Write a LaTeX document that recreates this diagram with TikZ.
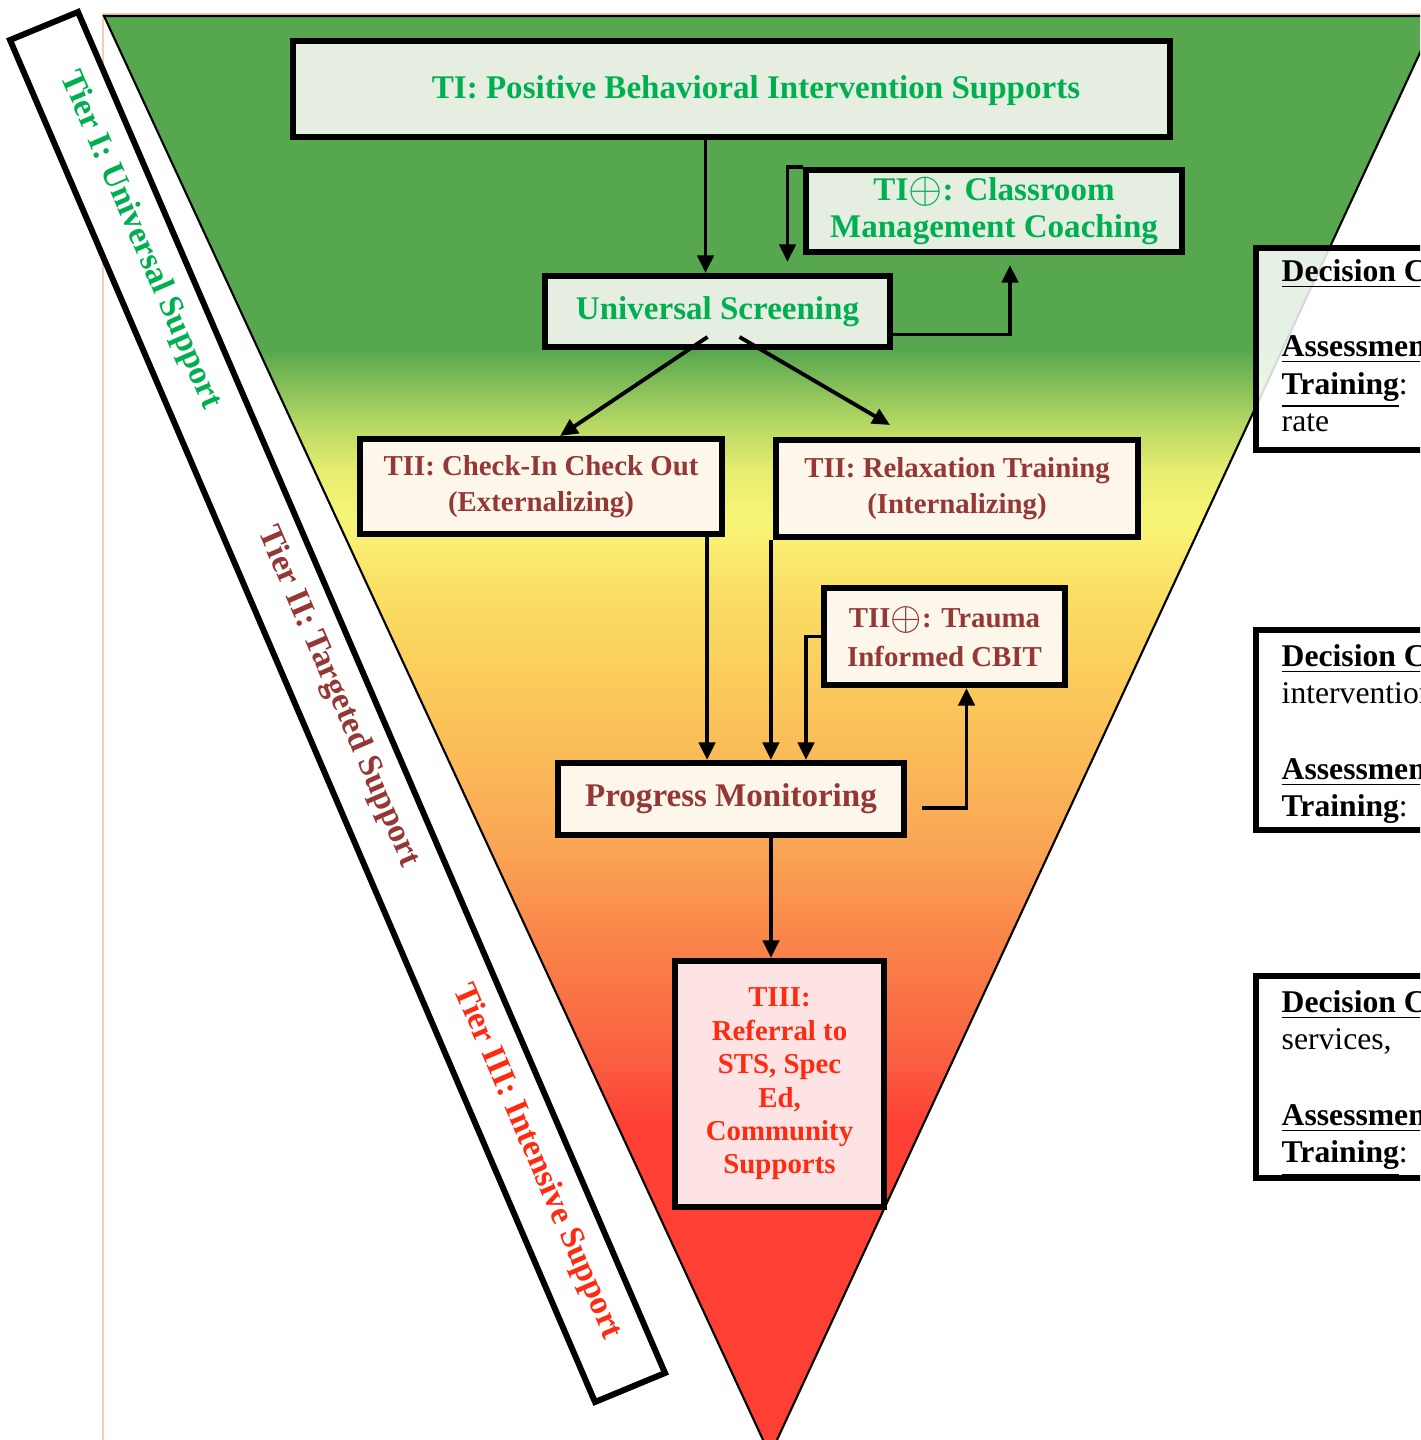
\documentclass[tikz,border=0pt]{standalone}
\usepackage{fontspec}
\usepackage{graphicx}
\setmainfont{Liberation Serif}
\usetikzlibrary{arrows.meta,calc}

% Colours of the three tiers
\definecolor{tigreen}{HTML}{00B050}
\definecolor{tifill}{HTML}{E5EEE1}
\definecolor{tiired}{HTML}{953735}
\definecolor{tiifill}{HTML}{FDF7EB}
\definecolor{tiiired}{HTML}{FF2A10}
\definecolor{tiiifill}{HTML}{FDE3E4}
\definecolor{pagepeach}{HTML}{F5CDB5}

% Colours of the pyramid, top to bottom
\definecolor{shgreen}{HTML}{57A74F}
\definecolor{shlime}{HTML}{B3D763}
\definecolor{shyellowgreen}{HTML}{E6ED6F}
\definecolor{shyellow}{HTML}{F8F577}
\definecolor{shgold}{HTML}{FADD62}
\definecolor{shamber}{HTML}{FBC75A}
\definecolor{shorange}{HTML}{F9A554}
\definecolor{shorangered}{HTML}{F98549}
\definecolor{shredorange}{HTML}{F95F41}
\definecolor{shred}{HTML}{FE3F34}

\pgfdeclareverticalshading{tiershade}{100bp}{color(0bp)=(shred); color(36.5bp)=(shred);
  color(38.7bp)=(shredorange); color(42.9bp)=(shorangered); color(46bp)=(shorange);
  color(51.2bp)=(shamber); color(54.7bp)=(shgold); color(57.5bp)=(shyellow);
  color(59.2bp)=(shyellowgreen); color(60.9bp)=(shlime); color(63.4bp)=(shgreen);
  color(100bp)=(shgreen)}

% Circled plus of the added supports
\newcommand{\addon}{\raisebox{-0.4pt}{\scalebox{1.35}{$\oplus$}}}
% Bold underlined heading of the decision boxes
\newcommand{\dechead}[1]{\textbf{\underline{#1}}}

\begin{document}
\begin{tikzpicture}[x=0.01cm, y=-0.01cm,
    boxtext/.style={font=\fontsize{9.4}{10.5}\selectfont\bfseries, align=center},
    tibox/.style={boxtext, draw, line width=1.7pt, fill=tifill, text=tigreen, inner sep=0pt},
    tiibox/.style={boxtext, draw, line width=1.7pt, fill=tiifill, text=tiired, inner sep=0pt,
        font=\fontsize{8.2}{10.3}\selectfont\bfseries},
    tiiibox/.style={boxtext, draw, line width=1.7pt, fill=tiiifill, text=tiiired, inner sep=0pt,
        font=\fontsize{8.2}{9.5}\selectfont\bfseries},
    flow/.style={line width=1.1pt, -{Triangle[length=5pt,width=4.6pt]}},
    decbox/.style={draw, line width=1.7pt, fill=white, fill opacity=0.85},
    dectext/.style={font=\fontsize{9}{10.7}\selectfont, align=left, anchor=north west, inner sep=0pt},
    tierlabel/.style={font=\fontsize{9.5}{11}\selectfont\bfseries, rotate=-66.67}
]

    % Fix the page and cut off what runs over the edge
    \useasboundingbox (0,0) rectangle (1420,1440);
    \clip (0,0) rectangle (1420,1440);

    % Page border
    \draw[pagepeach, line width=0.6pt] (103,1440) -- (103,14) -- (1420,14);

    % Define the corners of the pyramid
    \coordinate (TL) at (104,16);
    \coordinate (TR) at (1437,16);
    \coordinate (Tip) at (770,1455);

    % Draw the pyramid
    \draw[shading=tiershade, line width=0.6pt] (TL) -- (TR) -- (Tip) -- cycle;

    % Tier band on the left side
    \draw[line width=1.7pt, fill=white] (10,40) -- (78,12) -- (665,1373) -- (595,1402) -- cycle;
    \node[tierlabel, text=tigreen] (tierone) at (140,240) {Tier I: Universal Support};
    \node[tierlabel, text=tiired] (tiertwo) at (338,697) {Tier II: Targeted Support};
    \node[tierlabel, text=tiiired] (tierthree) at (537,1162) {Tier III: Intensive Support};

    % Tier I boxes
    \node[tibox, minimum width=8.77cm, minimum height=0.96cm] (ti) at (731.5,89) {};
    \node[boxtext, text=tigreen] (tilabel) at (756,91) {TI: Positive Behavioral Intervention Supports};
    \node[tibox, minimum width=3.76cm, minimum height=0.82cm] (coach) at (994,211)
        {TI\addon: Classroom\\Management Coaching};
    \node[tibox, minimum width=3.45cm, minimum height=0.71cm] (screen) at (717.5,311.5) {Universal Screening};

    % Tier II boxes
    \node[tiibox, minimum width=3.62cm, minimum height=0.95cm] (cico) at (541,486.5)
        {TII: Check-In Check Out\\(Externalizing)};
    \node[tiibox, minimum width=3.62cm, minimum height=0.97cm] (relax) at (957,488.5)
        {TII: Relaxation Training\\(Internalizing)};
    \node[tiibox, font=\fontsize{8.2}{11}\selectfont\bfseries, minimum width=2.41cm, minimum height=0.97cm]
        (trauma) at (944.5,636.5) {TII\addon: Trauma\\Informed CBIT};
    \node[tiibox, font=\fontsize{9.4}{10.5}\selectfont\bfseries, minimum width=3.46cm, minimum height=0.72cm]
        (monitor) at (731,799) {Progress Monitoring};

    % Tier III box
    \node[tiiibox, minimum width=2.09cm, minimum height=2.46cm] (referral) at (779.5,1084)
        {TIII:\\Referral to\\STS, Spec\\Ed,\\Community\\Supports};

    % Connectors of tier I
    \coordinate (tidrop) at ($(ti.south)+(-26,0)$);
    \draw[flow] (tidrop) -- (tidrop |- screen.north);
    \coordinate (coachin) at ($(screen.north)+(70,-11)$);
    \draw[flow] (coach.north west) -| (coachin);
    \coordinate (coachup) at ($(coach.south)+(16,10)$);
    \draw[flow] ($(screen.east)+(0,23)$) -| (coachup);
    \draw[flow] ($(screen.south)+(-10,-13)$) -- ($(cico.north)+(19,0)$);
    \draw[flow] ($(screen.south)+(22,-13)$) -- ($(relax.north)+(-67,-12)$);

    % Connectors of tier II
    \coordinate (cicodrop) at ($(cico.south east)+(-18,0)$);
    \draw[flow] (cicodrop) -- (cicodrop |- monitor.north);
    \coordinate (relaxdrop) at ($(relax.south west)+(-2,0)$);
    \draw[flow] (relaxdrop) -- (relaxdrop |- monitor.north);
    \coordinate (traumain) at ($(monitor.north)+(75,0)$);
    \draw[flow] (trauma.west) -| (traumain);
    \draw[flow] ($(monitor.east)+(15,9)$) -| ($(trauma.south)+(22,0)$);

    % Connector to tier III
    \coordinate (monidrop) at ($(monitor.south)+(40,0)$);
    \draw[flow] (monidrop) -- (monidrop |- referral.north);

    % Decision boxes on the right
    \draw[decbox] (1256,248) rectangle (1500,450);
    \node[dectext] (dectop) at (1281,258.5)
        {\dechead{Decision Criteria}:\\[10.7pt]\dechead{Assessment}\\\dechead{Training}:\\rate};
    \draw[decbox] (1256,630) rectangle (1500,830);
    \node[dectext] (decmid) at (1281,643.5)
        {\dechead{Decision Criteria}:\\intervention\\[10.7pt]\dechead{Assessment}\\\dechead{Training}:};
    \draw[decbox] (1256,976) rectangle (1500,1178);
    \node[dectext] (decbot) at (1281,989.5)
        {\dechead{Decision Criteria}:\\services,\\[10.7pt]\dechead{Assessment}\\\dechead{Training}:};

\end{tikzpicture}
\end{document}
